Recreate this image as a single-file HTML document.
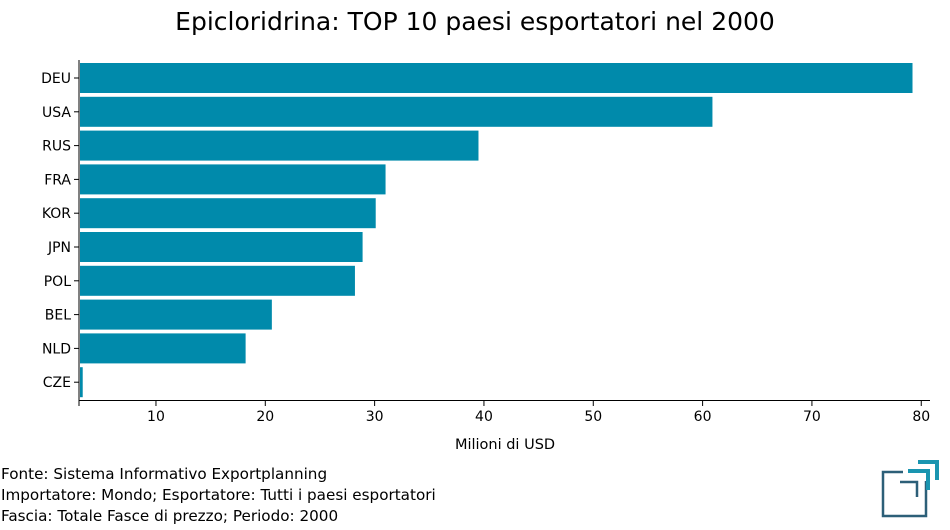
<!DOCTYPE html>
<html><head><meta charset="utf-8"><style>
body{margin:0;background:#fff;width:950px;height:530px;overflow:hidden;font-family:"DejaVu Sans","Liberation Sans",sans-serif}
</style></head><body>
<svg id="chart" width="950" height="530" style="position:absolute;left:0;top:0">
<text x="475" y="30" text-anchor="middle" font-size="25" fill="#000">Epicloridrina: TOP 10 paesi esportatori nel 2000</text>
<g id="bars"></g><g id="axes"></g>
<text x="505" y="449" text-anchor="middle" font-size="14.5">Milioni di USD</text>
<g font-size="15.2">
<text x="1" y="479">Fonte: Sistema Informativo Exportplanning</text>
<text x="1" y="500">Importatore: Mondo; Esportatore: Tutti i paesi esportatori</text>
<text x="1" y="521">Fascia: Totale Fasce di prezzo; Periodo: 2000</text>
</g>
<g fill="none" stroke-width="2.5">
<path d="M903,472 H883 V516 H926 V481" stroke="#2c5f78"/>
<path d="M900,482 H917 V497" stroke="#2c5f78"/>
<path d="M908,471 H928 V490" stroke="#1a95b0" stroke-width="4"/>
<path d="M918,462 H937 V480" stroke="#1a95b0" stroke-width="4"/>
</g>
</svg>
<script>
const categories=["DEU","USA","RUS","FRA","KOR","JPN","POL","BEL","NLD","CZE"];
const values=[79.2,60.9,39.5,31.0,30.1,28.9,28.2,20.6,18.2,3.3];
const ticks=[10,20,30,40,50,60,70,80];
const ns="http://www.w3.org/2000/svg";
const xMin=2.96,xMax=80.8,x0=79,x1=930,yTop=60,band=33.8;
const xs=v=>x0+(v-xMin)/(xMax-xMin)*(x1-x0);
const bars=document.getElementById('bars'),axes=document.getElementById('axes');
function mk(t,a,p){const e=document.createElementNS(ns,t);for(const k in a)e.setAttribute(k,a[k]);p.appendChild(e);return e;}
categories.forEach((c,i)=>{
 const y=yTop+3+i*band;
 const r=mk('rect',{x:x0+1,y:y,width:xs(values[i])-x0-1,height:30,fill:'#008aab'},bars);
 
 
 mk('line',{x1:x0-5,x2:x0,y1:y+15,y2:y+15,stroke:'#000'},axes);
 const t=mk('text',{x:x0-8,y:y+20,'text-anchor':'end','font-size':14},axes);t.textContent=c;
 
 
});
mk('line',{x1:x0,x2:x0,y1:yTop,y2:401,stroke:'#000'},axes);
mk('line',{x1:x0,x2:x1,y1:400.5,y2:400.5,stroke:'#000'},axes);
mk('line',{x1:x0,x2:x0,y1:400,y2:406,stroke:'#000'},axes);
ticks.forEach(v=>{
 const x=xs(v);
 mk('line',{x1:x,x2:x,y1:400,y2:406,stroke:'#000'},axes);
 const t=mk('text',{x:x,y:421,'text-anchor':'middle','font-size':14},axes);t.textContent=v;
 
 
});
</script>
</body></html>
